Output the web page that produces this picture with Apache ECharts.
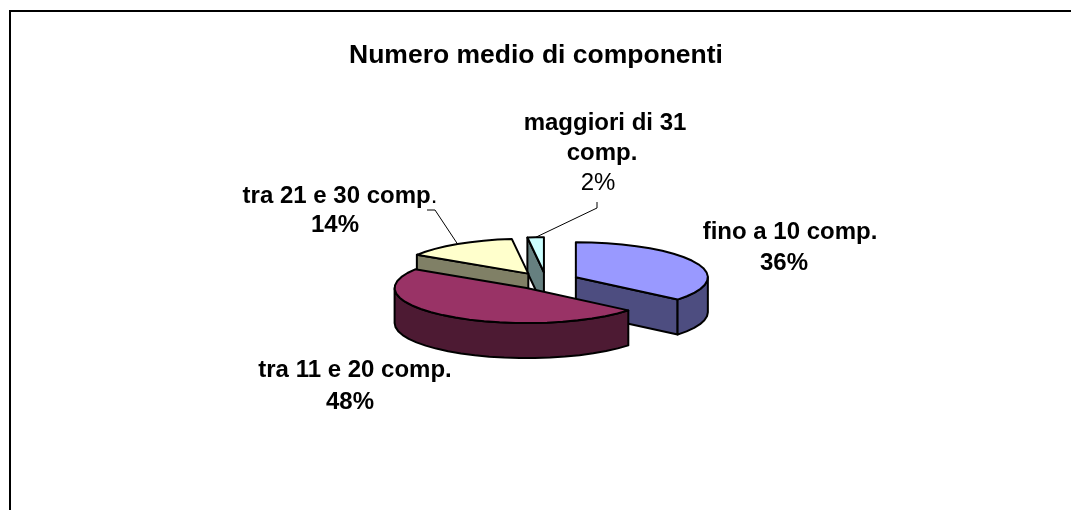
<!DOCTYPE html>
<html>
<head>
<meta charset="utf-8">
<style>
html,body{margin:0;padding:0;background:#fff;}
#main{width:1071px;height:510px;}
</style>
<script src="https://cdn.jsdelivr.net/npm/echarts@6/dist/echarts.min.js"></script>
</head>
<body>
<div id="main"></div>
<script>
var titleText = 'Numero medio di componenti';
var categories = ['fino a 10 comp.', 'tra 11 e 20 comp.', 'tra 21 e 30 comp.', 'maggiori di 31 comp.'];
var values = [36, 48, 14, 2];
var topColors = ['#9999FF', '#993366', '#FFFFCC', '#CCFFFF'];
var sideColors = ['#4D4D80', '#4D1A33', '#808066', '#668080'];

// pie geometry (Excel style exploded 3d pie)
var cx = 546, cy = 281, rx = 132, ry = 35, depth = 35, explode = 0.25;
var fontName = '"Liberation Sans", Arial, sans-serif';
var labelSize = 24, titleSize = 26.5;

var total = values.reduce(function (a, b) { return a + b; }, 0);

// slices in data order, clockwise from north
var slices = [];
var acc = 0;
for (var i = 0; i < values.length; i++) {
    var a0 = acc / total * 360;
    acc += values[i];
    var a1 = acc / total * 360;
    var mid = (a0 + a1) / 2;
    slices.push({
        a0: a0,
        a1: a1,
        mid: mid,
        x: cx + explode * rx * Math.sin(mid * Math.PI / 180),
        y: cy - explode * ry * Math.cos(mid * Math.PI / 180)
    });
}

function rim(s, a, dy) {
    var r = a * Math.PI / 180;
    return [s.x + rx * Math.sin(r), s.y - ry * Math.cos(r) + (dy || 0)];
}

function arc(s, a0, a1, dy) {
    var pts = [];
    var n = Math.max(1, Math.ceil((a1 - a0) / 7));
    for (var k = 0; k <= n; k++) {
        pts.push(rim(s, a0 + (a1 - a0) * k / n, dy));
    }
    return pts;
}

function poly(points, fill) {
    return {
        type: 'polygon',
        shape: { points: points },
        style: { fill: fill, stroke: '#000', lineWidth: 2, lineJoin: 'round' }
    };
}

// one line of a data label, centred on x,y
function labelLine(x, y, text, weight) {
    return {
        type: 'text', x: x, y: y,
        style: {
            text: text,
            fill: '#000',
            align: 'center',
            verticalAlign: 'middle',
            fontFamily: fontName,
            fontSize: labelSize,
            fontWeight: weight || 'bold',
            rich: {
                n: { fontFamily: fontName, fontSize: labelSize, fontWeight: 'normal' }
            }
        }
    };
}

// back to front
var drawOrder = values.map(function (v, i) { return i; }).sort(function (a, b) {
    return slices[a].y - slices[b].y;
});

function renderSlice(params, api) {
    var idx = api.value(0);
    var s = slices[idx];
    var side = sideColors[idx];
    var kids = [];
    var apex = [s.x, s.y];
    var apexLow = [s.x, s.y + depth];

    // radial faces turned to the viewer
    if (Math.sin(s.a0 * Math.PI / 180) < -0.001) {
        kids.push(poly([apex, rim(s, s.a0), rim(s, s.a0, depth), apexLow], side));
    }
    if (Math.sin(s.a1 * Math.PI / 180) > 0.001) {
        kids.push(poly([apex, rim(s, s.a1), rim(s, s.a1, depth), apexLow], side));
    }
    // outer wall, front half only
    var w0 = Math.max(s.a0, 90), w1 = Math.min(s.a1, 270);
    if (w1 > w0) {
        kids.push(poly(arc(s, w0, w1, 0).concat(arc(s, w0, w1, depth).reverse()), side));
    }
    // top
    kids.push(poly([apex].concat(arc(s, s.a0, s.a1, 0)), topColors[idx]));
    return { type: 'group', children: kids };
}

var option = {
    animation: false,
    backgroundColor: '#fff',
    title: {
        text: titleText,
        left: 531,
        top: 37,
        textAlign: 'center',
        textStyle: { fontFamily: fontName, fontSize: titleSize, fontWeight: 'bold', color: '#000' }
    },
    graphic: [
        {
            type: 'polyline',
            shape: { points: [[10, 510], [10, 11], [1071, 11]] },
            style: { fill: null, stroke: '#000', lineWidth: 2 }
        },
        // leader lines start on the rim at the slice middle
        {
            type: 'polyline',
            shape: { points: [rim(slices[2], slices[2].mid), [435, 210], [427, 210]] },
            style: { fill: null, stroke: '#000', lineWidth: 1 }
        },
        {
            type: 'polyline',
            shape: { points: [rim(slices[3], slices[3].mid), [597, 208], [597, 202]] },
            style: { fill: null, stroke: '#000', lineWidth: 1 }
        },
        labelLine(790, 232, categories[0]),
        labelLine(784, 263, values[0] + '%'),
        labelLine(355, 370, categories[1]),
        labelLine(350, 402, values[1] + '%'),
        labelLine(340, 196, categories[2].slice(0, -1) + '{n|.}'),
        labelLine(335, 225, values[2] + '%'),
        labelLine(605, 123, 'maggiori di 31'),
        labelLine(602, 153, 'comp.'),
        labelLine(598, 183, values[3] + '%', 'normal')
    ],
    series: [{
        type: 'custom',
        coordinateSystem: 'none',
        silent: true,
        renderItem: renderSlice,
        data: drawOrder.map(function (i) { return [i, values[i]]; })
    }]
};

var myChart = echarts.init(document.getElementById('main'));
myChart.setOption(option);
</script>
</body>
</html>
